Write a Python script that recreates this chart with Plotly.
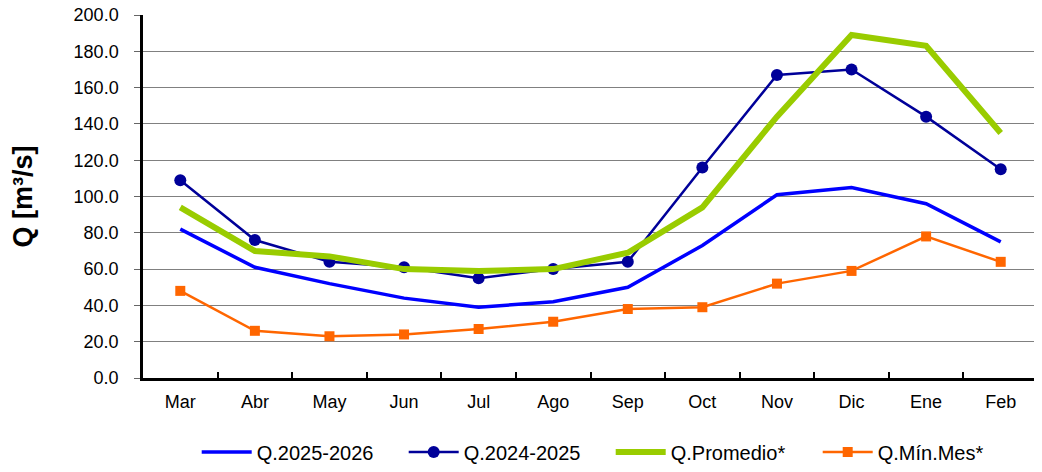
import plotly.graph_objects as go

meses = ["Mar", "Abr", "May", "Jun", "Jul", "Ago", "Sep", "Oct", "Nov", "Dic", "Ene", "Feb"]

q_2025_2026 = [82, 61, 52, 44, 39, 42, 50, 73, 101, 105, 96, 75]
q_2024_2025 = [109, 76, 64, 61, 55, 60, 64, 116, 167, 170, 144, 115]
q_promedio = [94, 70, 67, 60, 59, 60, 69, 94, 144, 189, 183, 135]
q_min_mes = [48, 26, 23, 24, 27, 31, 38, 39, 52, 59, 78, 64]

y_ticks = [0, 20, 40, 60, 80, 100, 120, 140, 160, 180, 200]

fig = go.Figure()
fig.add_trace(go.Scatter(x=meses, y=q_2025_2026, name="Q.2025-2026", mode="lines",
                         line=dict(color="#0000FF", width=3.5)))
fig.add_trace(go.Scatter(x=meses, y=q_2024_2025, name="Q.2024-2025", mode="lines+markers",
                         line=dict(color="#000099", width=2.5),
                         marker=dict(symbol="circle", size=12, color="#000099")))
fig.add_trace(go.Scatter(x=meses, y=q_promedio, name="Q.Promedio*", mode="lines",
                         line=dict(color="#99CC00", width=6)))
fig.add_trace(go.Scatter(x=meses, y=q_min_mes, name="Q.Mín.Mes*", mode="lines+markers",
                         line=dict(color="#FF6600", width=2.5),
                         marker=dict(symbol="square", size=10, color="#FF6600")))

# the page puts the figure about 8px in from the top-left corner
fig.update_layout(
    width=1034,
    height=464,
    margin=dict(l=135, r=4, t=7, b=94, autoexpand=False),
    paper_bgcolor="white",
    plot_bgcolor="white",
    font=dict(family="Liberation Sans, Arial", size=18, color="black"),
    showlegend=True,
    legend=dict(orientation="h", x=0.06, xanchor="left", y=-0.15, yanchor="top",
                font=dict(size=20), tracegroupgap=0, entrywidth=142, itemwidth=50),
    xaxis=dict(
        type="category",
        showgrid=False,
        showline=True,
        linecolor="black",
        linewidth=2.5,
        ticks="inside",
        tickson="boundaries",
        ticklen=6,
        tickwidth=2,
        tickcolor="black",
        range=[-0.5, 11.5],
        ticklabelstandoff=6,
    ),
    yaxis=dict(
        range=[0, 200],
        tickvals=y_ticks,
        tickformat=".1f",
        showgrid=True,
        gridcolor="#808080",
        gridwidth=1,
        showline=True,
        linecolor="black",
        linewidth=2.5,
        mirror=True,
        ticks="outside",
        ticklen=6,
        tickcolor="#666666",
        ticklabelstandoff=12,
        ticklabeloverflow="allow",
        zeroline=False,
    ),
)
fig.update_yaxes(title=dict(text="<b>Q [m³/s]</b>", font=dict(size=27), standoff=40))

fig.write_html("out.html")
